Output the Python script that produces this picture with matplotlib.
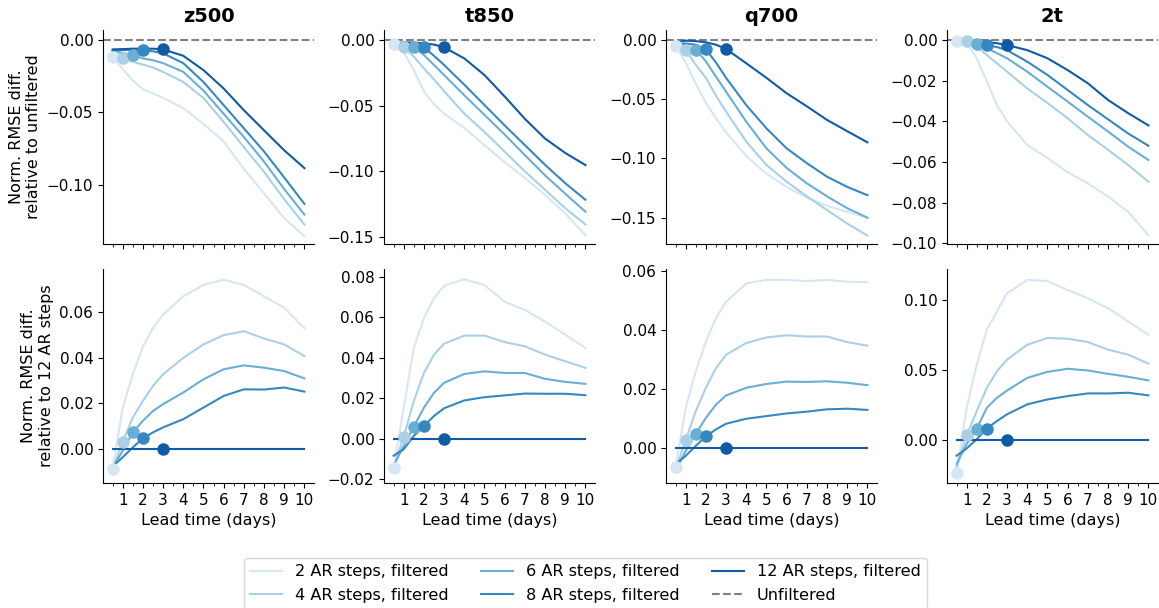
import numpy as np
import matplotlib
matplotlib.use("Agg")
import matplotlib.pyplot as plt
from matplotlib.ticker import MultipleLocator, FuncFormatter

lead_days = [0.5, 1, 1.5, 2, 2.5, 3, 4, 5, 6, 7, 8, 9, 10]
ar_steps = [2, 4, 6, 8, 12]
variables = ["z500", "t850", "q700", "2t"]

# Top row: normalised RMSE difference relative to unfiltered
z500_unf = {
    2: [-0.0115, -0.020, -0.028, -0.034, -0.037, -0.040, -0.047, -0.058, -0.070, -0.089, -0.106, -0.123, -0.1356],
    4: [-0.009, -0.0127, -0.015, -0.017, -0.019, -0.022, -0.029, -0.040, -0.0566, -0.074, -0.091, -0.110, -0.1275],
    6: [-0.008, -0.009, -0.0104, -0.0127, -0.014, -0.016, -0.022, -0.035, -0.051, -0.067, -0.084, -0.103, -0.1206],
    8: [-0.0075, -0.007, -0.0068, -0.0069, -0.0078, -0.0092, -0.016, -0.029, -0.045, -0.061, -0.077, -0.095, -0.1132],
    12: [-0.0065, -0.0063, -0.006, -0.006, -0.006, -0.0065, -0.0109, -0.0208, -0.0335, -0.0485, -0.0624, -0.0762, -0.0885],
}
t850_unf = {
    2: [-0.003, -0.009, -0.023, -0.039, -0.049, -0.056, -0.067, -0.080, -0.093, -0.105, -0.118, -0.132, -0.1485],
    4: [-0.0035, -0.005, -0.0127, -0.0216, -0.030, -0.039, -0.056, -0.070, -0.085, -0.100, -0.114, -0.128, -0.1404],
    6: [-0.004, -0.003, -0.0056, -0.0114, -0.019, -0.0267, -0.042, -0.057, -0.072, -0.0876, -0.103, -0.117, -0.1307],
    8: [-0.004, -0.003, -0.003, -0.0056, -0.012, -0.019, -0.034, -0.0495, -0.065, -0.080, -0.095, -0.109, -0.1216],
    12: [-0.003, -0.0018, -0.002, -0.0025, -0.0035, -0.0056, -0.014, -0.0267, -0.043, -0.060, -0.075, -0.086, -0.0952],
}
q700_unf = {
    2: [-0.005, -0.019, -0.037, -0.053, -0.066, -0.078, -0.098, -0.113, -0.124, -0.133, -0.140, -0.145, -0.150],
    4: [-0.004, -0.0084, -0.021, -0.032, -0.047, -0.0605, -0.0858, -0.1055, -0.1196, -0.132, -0.1435, -0.155, -0.165],
    6: [-0.004, -0.004, -0.0084, -0.018, -0.031, -0.0436, -0.069, -0.0915, -0.108, -0.121, -0.132, -0.142, -0.150],
    8: [-0.004, -0.003, -0.004, -0.0079, -0.019, -0.032, -0.055, -0.0746, -0.0915, -0.104, -0.1154, -0.124, -0.131],
    12: [-0.0023, -0.0006, -0.001, -0.002, -0.004, -0.0076, -0.0197, -0.032, -0.045, -0.056, -0.0675, -0.077, -0.0864],
}
t2m_unf = {
    2: [-0.0003, -0.0015, -0.009, -0.0205, -0.032, -0.040, -0.0516, -0.058, -0.065, -0.0705, -0.077, -0.0845, -0.096],
    4: [-0.001, -0.0003, -0.0033, -0.0074, -0.0115, -0.0156, -0.0238, -0.031, -0.0385, -0.0467, -0.054, -0.0615, -0.0697],
    6: [-0.0013, -0.001, -0.002, -0.0041, -0.0065, -0.009, -0.0156, -0.023, -0.0303, -0.0377, -0.045, -0.0525, -0.059],
    8: [-0.0015, -0.001, -0.0015, -0.0025, -0.0035, -0.005, -0.0107, -0.0172, -0.0246, -0.032, -0.039, -0.046, -0.052],
    12: [-0.0013, -0.0005, -0.0008, -0.0011, -0.0016, -0.0025, -0.005, -0.009, -0.0148, -0.0213, -0.0295, -0.036, -0.042],
}

# Bottom row: normalised RMSE difference relative to 12 AR steps
zeros12 = [0.0] * 13
z500_ar12 = {
    2: [-0.0087, 0.018, 0.0328, 0.045, 0.053, 0.059, 0.067, 0.072, 0.0743, 0.072, 0.067, 0.062, 0.053],
    4: [-0.0087, 0.0033, 0.0138, 0.0211, 0.0277, 0.0328, 0.040, 0.0459, 0.050, 0.0517, 0.0485, 0.0459, 0.0408],
    6: [-0.0083, -0.0007, 0.0073, 0.0124, 0.0167, 0.0197, 0.0248, 0.0306, 0.035, 0.0367, 0.0357, 0.0342, 0.031],
    8: [-0.0077, -0.0036, 0.0007, 0.0047, 0.0073, 0.0095, 0.0131, 0.0182, 0.0233, 0.0262, 0.0261, 0.027, 0.0252],
    12: zeros12,
}
t850_ar12 = {
    2: [-0.0146, 0.015, 0.0449, 0.0596, 0.0695, 0.0757, 0.0789, 0.076, 0.0678, 0.0637, 0.058, 0.0514, 0.0449],
    4: [-0.0143, 0.0008, 0.0186, 0.0325, 0.0416, 0.047, 0.051, 0.051, 0.0478, 0.0457, 0.0416, 0.0383, 0.035],
    6: [-0.0135, -0.0036, 0.0059, 0.0153, 0.0227, 0.0276, 0.032, 0.0333, 0.0325, 0.0325, 0.0296, 0.0281, 0.0271],
    8: [-0.0085, -0.0053, 0.0013, 0.0062, 0.0112, 0.015, 0.0189, 0.0205, 0.0214, 0.0223, 0.0222, 0.0222, 0.0215],
    12: zeros12,
}
q700_ar12 = {
    2: [-0.0064, 0.0136, 0.026, 0.0361, 0.044, 0.0496, 0.0558, 0.057, 0.057, 0.0566, 0.057, 0.0564, 0.0562],
    4: [-0.0072, 0.0026, 0.0125, 0.0204, 0.0271, 0.0316, 0.0356, 0.0375, 0.0382, 0.0378, 0.0378, 0.0359, 0.0347],
    6: [-0.0078, -0.001, 0.0048, 0.0102, 0.0147, 0.0178, 0.0204, 0.0217, 0.0225, 0.0224, 0.0226, 0.0221, 0.0213],
    8: [-0.0055, -0.0027, 0.0007, 0.0039, 0.0063, 0.0082, 0.0099, 0.0108, 0.0117, 0.0123, 0.0131, 0.0133, 0.0129],
    12: zeros12,
}
t2m_ar12 = {
    2: [-0.0237, 0.0232, 0.054, 0.079, 0.092, 0.105, 0.1145, 0.1137, 0.1073, 0.1014, 0.0943, 0.0848, 0.0754],
    4: [-0.0194, 0.0036, 0.0209, 0.0374, 0.0493, 0.0576, 0.0682, 0.073, 0.0725, 0.0701, 0.0647, 0.0611, 0.0547],
    6: [-0.017, -0.0028, 0.0083, 0.0232, 0.0303, 0.0355, 0.0445, 0.0488, 0.051, 0.0498, 0.0474, 0.0453, 0.0427],
    8: [-0.0111, -0.0059, 0.0007, 0.0083, 0.0137, 0.0185, 0.0256, 0.0291, 0.0315, 0.0334, 0.0334, 0.0339, 0.032],
    12: zeros12,
}

top_data = [z500_unf, t850_unf, q700_unf, t2m_unf]
bottom_data = [z500_ar12, t850_ar12, q700_ar12, t2m_ar12]

top_ylims = [(-0.1409, 0.0069), (-0.1553, 0.0076), (-0.1722, 0.0084), (-0.1003, 0.0049)]
bottom_ylims = [(-0.0149, 0.079), (-0.022, 0.084), (-0.0119, 0.0607), (-0.0306, 0.1223)]
top_steps = [0.05, 0.05, 0.05, 0.02]
bottom_steps = [0.02, 0.02, 0.02, 0.05]

row_labels = ["Norm. RMSE diff.\nrelative to unfiltered", "Norm. RMSE diff.\nrelative to 12 AR steps"]

plt.rcParams["font.family"] = ["DejaVu Sans"]
plt.rcParams["font.size"] = 11


def fmt(v, pos):
    if abs(v) < 1e-9:
        v = 0.0
    return f"{v:.2f}".replace("-", "\u2212")


colors = plt.cm.Blues(np.linspace(0, 1, len(ar_steps) + 2)[1:-1])

W, H = 1159, 608
fig = plt.figure(figsize=(W / 100, H / 100), dpi=100)

col_lefts = [103, 384, 666, 947]
ax_w = 211
row_tops = [30, 269]
ax_h = 214

x = np.array(lead_days)
axes = []
rows = [(top_data, top_ylims, top_steps), (bottom_data, bottom_ylims, bottom_steps)]
for r, (data_row, ylim_row, step_row) in enumerate(rows):
    for c in range(4):
        ax = fig.add_axes([col_lefts[c] / W, 1 - (row_tops[r] + ax_h) / H, ax_w / W, ax_h / H])
        axes.append(ax)
        data = data_row[c]
        if r == 0:
            ax.axhline(0, color="gray", ls="--", lw=1.5, label="Unfiltered", zorder=1)
        for k, s in enumerate(ar_steps):
            y = np.array(data[s])
            ax.plot(x, y, color=colors[k], lw=1.5, label=f"{s} AR steps, filtered", zorder=2)
        for k, s in enumerate(ar_steps):
            y = np.array(data[s])
            mx = s / 4.0
            idx = lead_days.index(mx)
            ax.plot([mx], [y[idx]], "o", color=colors[k], ms=8, zorder=3 + k)
        ax.set_xlim(0.025, 10.475)
        ax.set_ylim(ylim_row[c][0], ylim_row[c][1])
        ax.xaxis.set_major_locator(MultipleLocator(1))
        ax.xaxis.set_minor_locator(MultipleLocator(0.5))
        ax.yaxis.set_major_locator(MultipleLocator(step_row[c]))
        ax.yaxis.set_major_formatter(FuncFormatter(fmt))
        ax.spines["top"].set_visible(False)
        ax.spines["right"].set_visible(False)
        ax.tick_params(axis="both", labelsize=11)
        if r == 0:
            ax.set_title(variables[c], fontsize=14, fontweight="bold")
            ax.tick_params(axis="x", labelbottom=False)
        else:
            ax.set_xlabel("Lead time (days)", fontsize=11.5)
        if c == 0:
            ax.set_ylabel(row_labels[r], fontsize=11.5)

handles, labels = axes[0].get_legend_handles_labels()
order = [1, 2, 3, 4, 5, 0]
handles = [handles[i] for i in order]
labels = [labels[i] for i in order]
fig.legend(handles, labels, loc="center", bbox_to_anchor=(585.5 / W, 1 - 583.5 / H),
           ncol=3, fontsize=11.6, frameon=True)

fig.savefig("out.png", dpi=100)
